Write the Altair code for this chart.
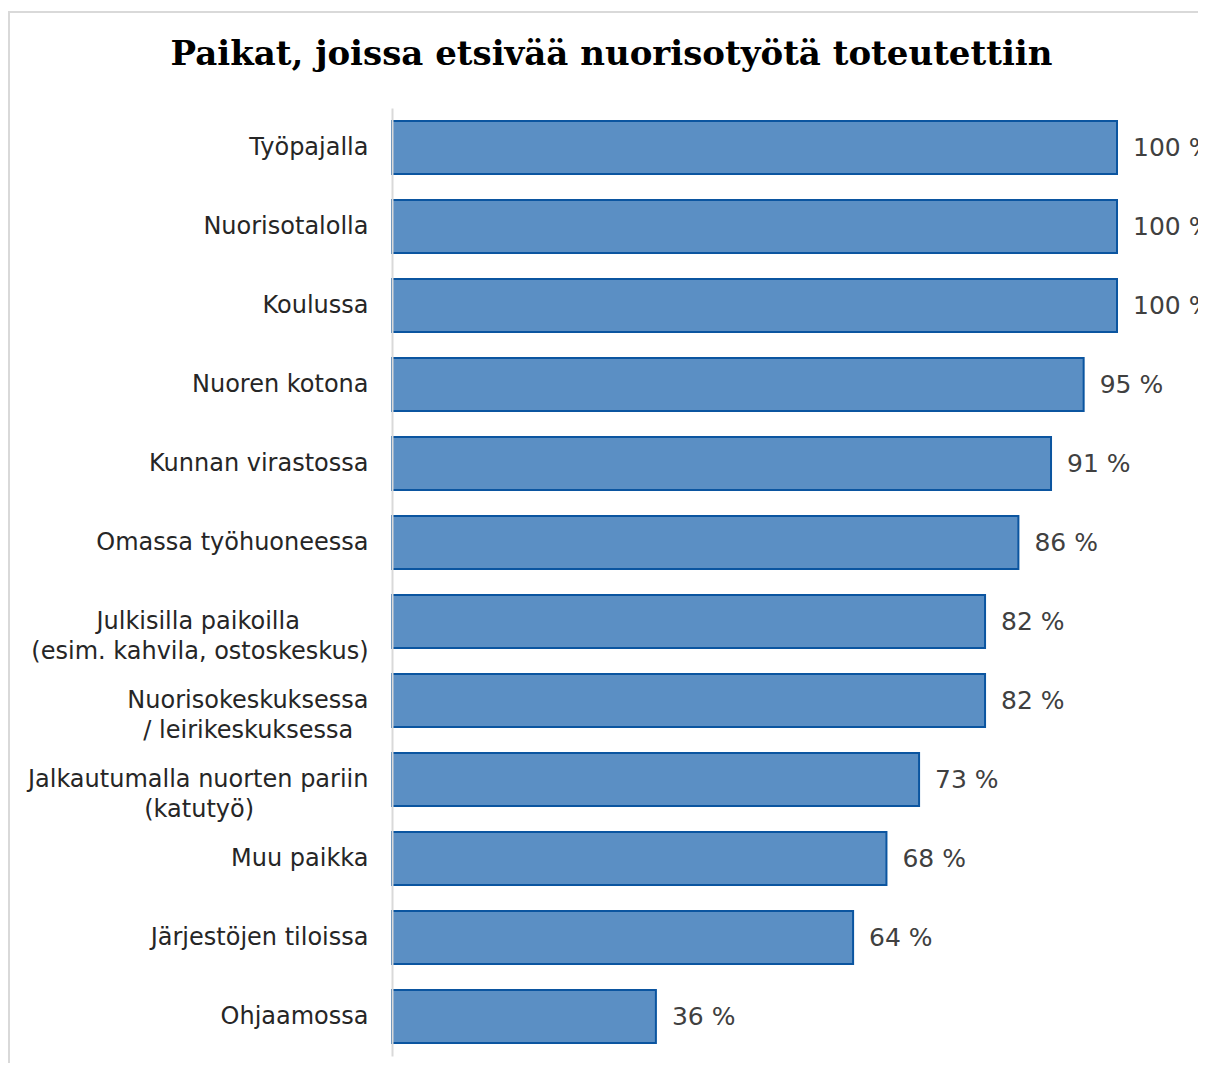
import altair as alt
import pandas as pd

title_text = "Paikat, joissa etsivää nuorisotyötä toteutettiin"

categories = [
    "Työpajalla",
    "Nuorisotalolla",
    "Koulussa",
    "Nuoren kotona",
    "Kunnan virastossa",
    "Omassa työhuoneessa",
    "Julkisilla paikoilla\n(esim. kahvila, ostoskeskus)",
    "Nuorisokeskuksessa\n/ leirikeskuksessa",
    "Jalkautumalla nuorten pariin\n(katutyö)",
    "Muu paikka",
    "Järjestöjen tiloissa",
    "Ohjaamossa",
]
values = [100, 100, 100, 95.4, 90.9, 86.4, 81.8, 81.8, 72.7, 68.2, 63.6, 36.4]

# trailing no-break spaces (closed by a word joiner) visually centre the shorter line
line_pad = {6: [9, 0], 7: [0, 2], 8: [0, 15]}

def padded(i, cat):
    lines = cat.split("\n")
    pads = line_pad.get(i, [0] * len(lines))
    return "\n".join(l + ("\u00a0" * p + "\u2060" if p else "") for l, p in zip(lines, pads))

labels = [padded(i, c) for i, c in enumerate(categories)]

df = pd.DataFrame({"cat": labels, "value": values})
df["lab"] = [f"{round(v):.0f} %" for v in values]

W, H = 725, 948

y_enc = alt.Y(
    "cat:N",
    sort=None,
    scale=alt.Scale(paddingInner=0.33, paddingOuter=0.165),
    axis=alt.Axis(
        title=None,
        ticks=False,
        labelPadding=24,
        labelFont="DejaVu Sans",
        labelFontSize=24,
        labelColor="#262626",
        labelLimit=0,
        labelLineHeight=30,
        labelExpr="split(datum.label, '\\n')",
        domainColor="#d9d9d9",
        domainWidth=2,
        grid=False,
        zindex=1,
    ),
)
x_enc = alt.X("value:Q", scale=alt.Scale(domain=[0, 100]), axis=None)

bars = alt.Chart(df).mark_bar(
    fill="#5B8FC4", stroke="#0B55A0", strokeWidth=2
).encode(x=x_enc, y=y_enc)

texts = alt.Chart(df).mark_text(
    align="left", baseline="middle", dx=16, font="DejaVu Sans", fontSize=25, color="#404040"
).encode(x=x_enc, y=y_enc, text="lab:N")

frame = alt.Chart(pd.DataFrame({"f": [0]})).mark_rect(
    filled=False, stroke="#d9d9d9", strokeWidth=2
).encode(x=alt.value(-383), x2=alt.value(1000), y=alt.value(-96), y2=alt.value(1100))

chart = alt.layer(frame, bars, texts).properties(
    width=W,
    height=H,
    autosize="none",
    padding={"left": 384, "top": 100, "right": 81, "bottom": 7},
    title=alt.TitleParams(
        title_text,
        font="DejaVu Serif",
        fontSize=34,
        fontWeight="bold",
        color="black",
        anchor="middle",
        frame="group",
        baseline="alphabetic",
        offset=0,
        dy=88,
        dx=-143,
    ),
).configure(background="white", view=alt.ViewConfig(stroke=None))

chart.save("out.html", embed_options={"renderer": "svg", "actions": False})
